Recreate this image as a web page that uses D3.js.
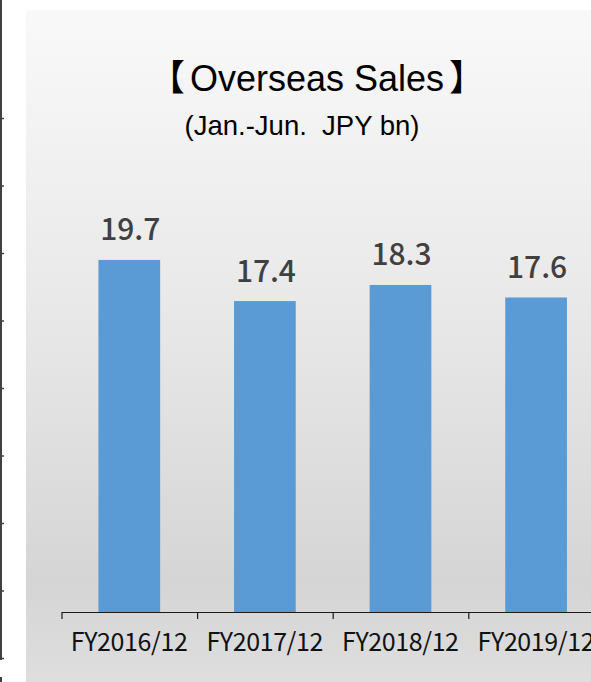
<!DOCTYPE html>
<html>
<head>
<meta charset="utf-8">
<script src="https://cdn.jsdelivr.net/npm/d3@7"></script>
<style>
  html, body { margin: 0; padding: 0; background: #ffffff; }
  svg { display: block; }
</style>
</head>
<body>
<script>
// ---- data ----
const categories = ["FY2016/12", "FY2017/12", "FY2018/12", "FY2019/12"];
const sales = [19.7, 17.4, 18.3, 17.6];          // JPY bn, Jan.-Jun.
const titleParts = ["【", "Overseas Sales", "】"];
const subtitleText = "(Jan.-Jun.  JPY bn)";
const neighbourTicks = [0, 1, 2, 3, 4, 5, 6, 7, 8]; // axis of the adjoining chart

// ---- layout ----
const W = 591, H = 682;
const baseY = 612;
const pxPerUnit = 17.87;

const svg = d3.select("body").append("svg")
  .attr("width", W).attr("height", H);

// background gradient of the chart panel
const grad = svg.append("defs").append("linearGradient")
  .attr("id", "panelFill").attr("x1", 0).attr("y1", 0).attr("x2", 0).attr("y2", 1);
[[0, "#f9f9f9"], [0.45, "#e8e8e8"], [0.84, "#d5d5d5"], [1, "#dfdfdf"]].forEach(([o, c]) =>
  grad.append("stop").attr("offset", o).attr("stop-color", c));

svg.append("rect")
  .attr("x", 26).attr("y", 10)
  .attr("width", W - 26 + 10).attr("height", H - 10 + 10)
  .attr("rx", 3)
  .attr("fill", "url(#panelFill)");

// axis line of the neighbouring chart at the far left
svg.append("line")
  .attr("x1", 1).attr("x2", 1).attr("y1", 0).attr("y2", 660)
  .attr("stroke", "#404040").attr("stroke-width", 2);
svg.append("line")
  .attr("x1", 1).attr("x2", 1).attr("y1", 677).attr("y2", 682)
  .attr("stroke", "#404040").attr("stroke-width", 2);
const nScale = d3.scaleLinear().domain([0, 8]).range([658, 118]);
const nAxis = svg.append("g").attr("transform", "translate(1,0)")
  .call(d3.axisRight(nScale).tickValues(neighbourTicks).tickSize(3).tickSizeOuter(0).tickFormat(""));
nAxis.select(".domain").remove();
nAxis.selectAll(".tick line").attr("stroke", "#404040").attr("stroke-width", 1.5);

// ---- scales ----
const x = d3.scaleBand()
  .domain(categories)
  .range([61.5, 61.5 + categories.length * 135.6])
  .paddingInner(0.545)
  .paddingOuter(0.2725);

const y = d3.scaleLinear()
  .domain([0, 25])
  .range([baseY, baseY - 25 * pxPerUnit]);

// ---- bars ----
svg.append("g").selectAll("rect")
  .data(categories)
  .join("rect")
  .attr("x", d => x(d))
  .attr("y", (d, i) => y(sales[i]))
  .attr("width", x.bandwidth())
  .attr("height", (d, i) => y(0) - y(sales[i]))
  .attr("fill", "#5b9bd5");

// ---- category axis (ticks sit on the band boundaries) ----
const boundary = d3.scaleLinear().domain([0, categories.length]).range(x.range());
const xAxis = svg.append("g")
  .attr("transform", `translate(0,${baseY})`)
  .call(d3.axisBottom(boundary).ticks(categories.length).tickSize(7).tickSizeOuter(0).tickFormat(""));
xAxis.select(".domain").attr("stroke", "#1a1a1a").attr("stroke-width", 1.2);
xAxis.selectAll(".tick line").attr("stroke", "#1a1a1a").attr("stroke-width", 1.2);

// category labels: spread to a fixed half-em per character
svg.append("g")
  .attr("font-family", "'Noto Sans CJK JP', 'Noto Sans', sans-serif")
  .attr("font-size", 25)
  .attr("fill", "#111111")
  .selectAll("text")
  .data(categories)
  .join("text")
  .attr("x", d => x(d) + x.bandwidth() / 2)
  .attr("y", 651)
  .attr("text-anchor", "middle")
  .attr("textLength", d => d.length * 13)
  .attr("lengthAdjust", "spacing")
  .text(d => d);

// value labels above the bars
const fmt = d3.format(".1f");
svg.append("g")
  .attr("font-family", "'Noto Sans CJK JP', 'Noto Sans', sans-serif")
  .attr("font-size", 30)
  .attr("font-weight", 500)
  .attr("fill", "#404040")
  .selectAll("text")
  .data(categories)
  .join("text")
  .attr("x", d => x(d) + x.bandwidth() / 2 + 1)
  .attr("y", (d, i) => y(sales[i]) - 19.5)
  .attr("text-anchor", "middle")
  .attr("textLength", (d, i) => fmt(sales[i]).length * 15)
  .attr("lengthAdjust", "spacing")
  .text((d, i) => fmt(sales[i]));

// ---- titles ----
const title = svg.append("text")
  .attr("x", 317).attr("y", 91)
  .attr("text-anchor", "middle")
  .attr("font-family", "'Liberation Sans', Arial, 'Noto Sans CJK JP', sans-serif")
  .attr("font-size", 36)
  .attr("fill", "#000000");
title.selectAll("tspan").data(titleParts).join("tspan")
  .attr("dx", (d, i) => i === 0 ? 0 : 5)
  .text(d => d);

svg.append("text")
  .attr("x", 302).attr("y", 135)
  .attr("text-anchor", "middle")
  .attr("font-family", "'Liberation Sans', Arial, sans-serif")
  .attr("font-size", 27.5)
  .attr("fill", "#000000")
  .style("white-space", "pre")
  .text(subtitleText);
</script>
</body>
</html>
